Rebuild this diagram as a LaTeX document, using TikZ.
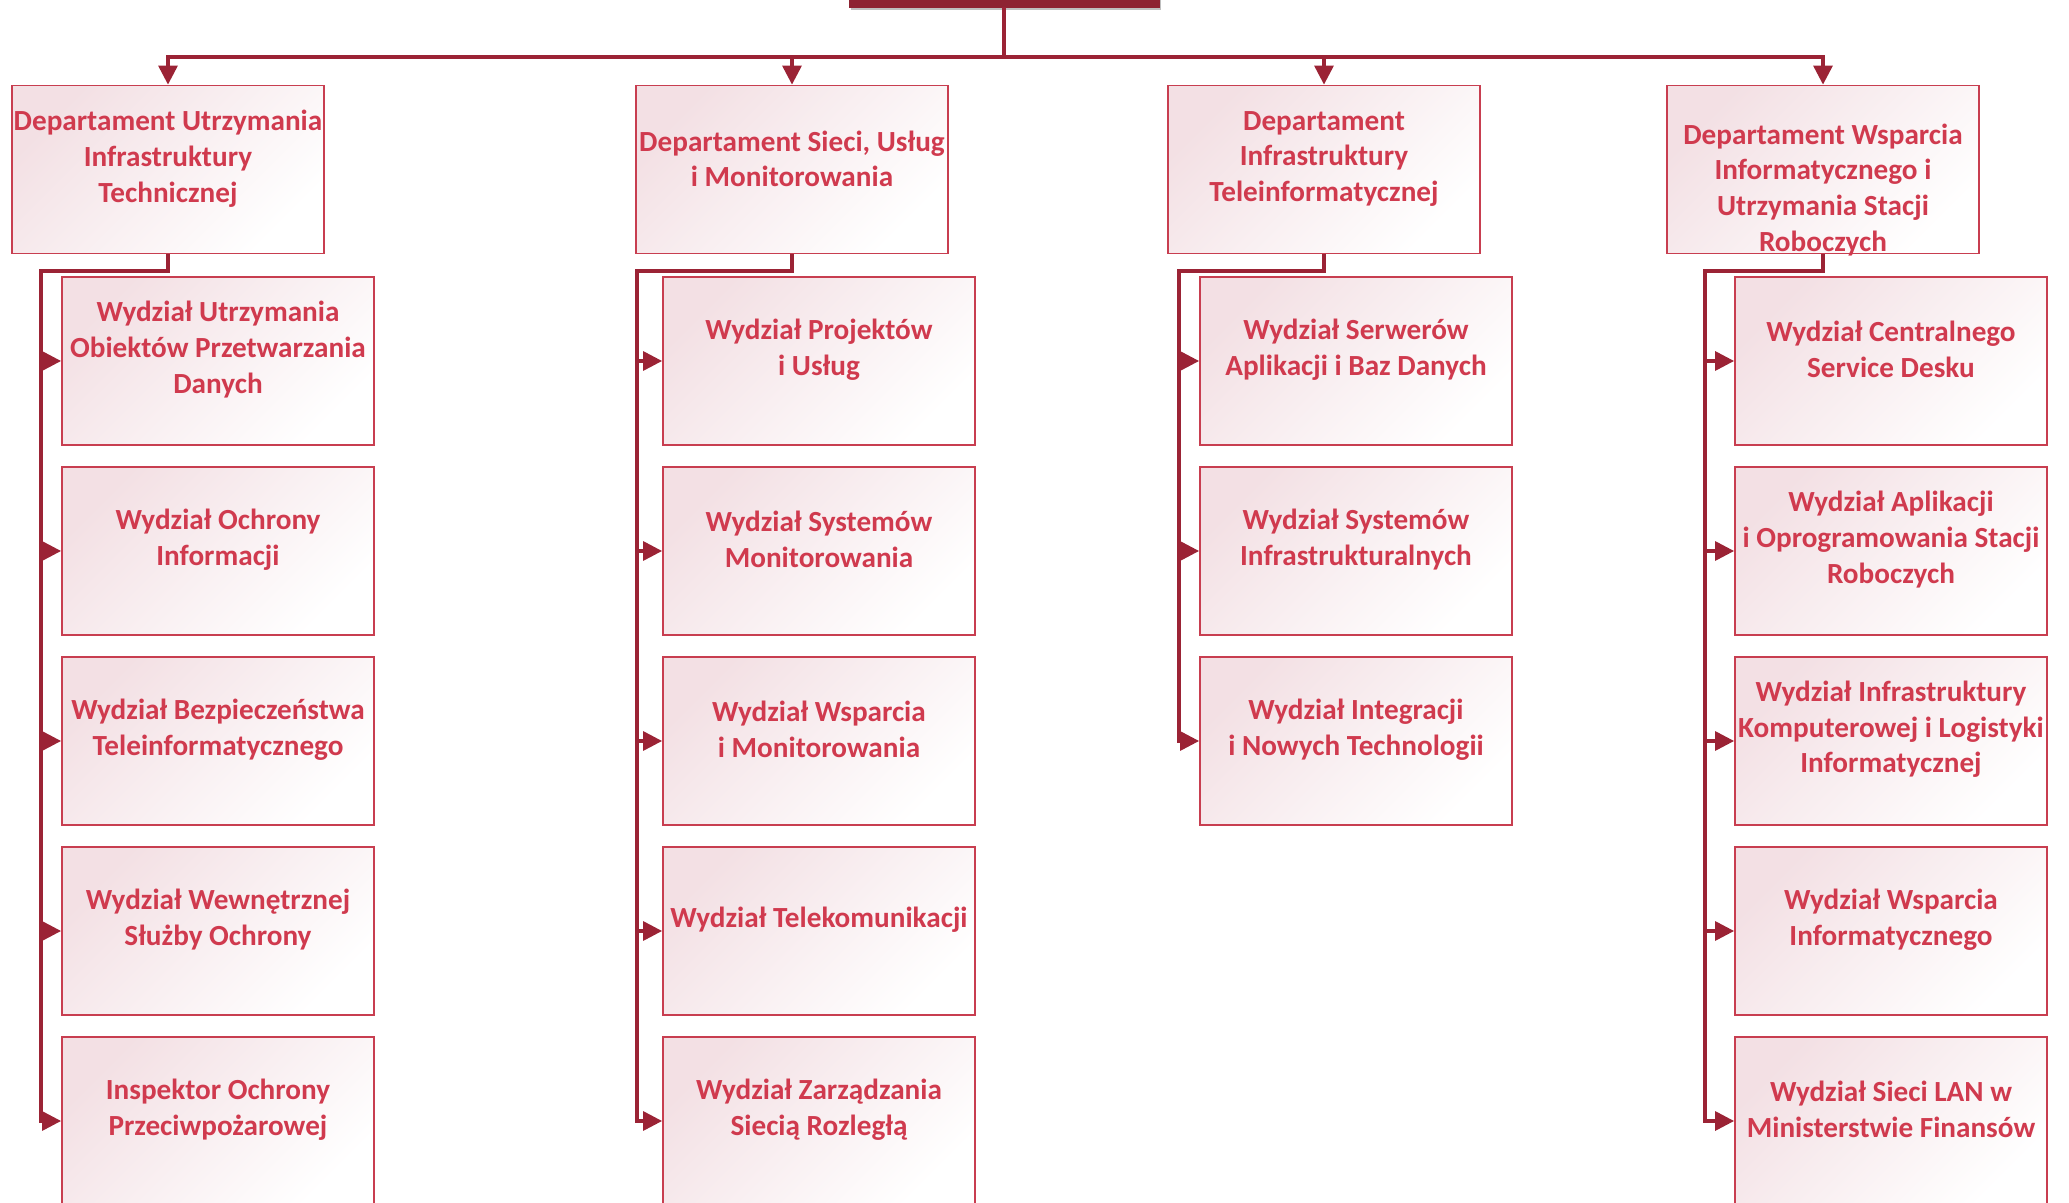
\documentclass[tikz,border=0pt]{standalone}
\usepackage{fontspec}
\setmainfont{Carlito}
\usetikzlibrary{arrows.meta,shadows}

\definecolor{mfred}{RGB}{155,35,53}
\definecolor{mftop}{RGB}{142,35,50}
\definecolor{mfline}{RGB}{200,62,80}
\definecolor{mftext}{RGB}{208,58,78}
\definecolor{mfpink}{RGB}{243,224,228}

\begin{document}
\begin{tikzpicture}[x=0.5pt,y=-0.5pt,>={Triangle[length=9.5pt,width=9.5pt]},node distance=95pt,
    unit/.style={rectangle,draw=mfline,line width=0.9pt,top color=mfpink,middle color=white!94!mfpink,bottom color=white,shading angle=45,minimum width=156pt,minimum height=84pt,inner sep=0pt},
    unittext/.style={text=mftext,font=\bfseries\fontsize{14.6}{17.9}\selectfont,align=center,inner sep=0pt},
    topbox/.style={rectangle,fill=mftop,draw=mftop,minimum width=155pt,minimum height=84pt,drop shadow={fill=black,opacity=0.25,shadow xshift=1pt,shadow yshift=-1.5pt}},
    link/.style={draw=mfred,line width=1.6pt}]
    \useasboundingbox (0,0) rectangle (2069,1203);
    \clip (0,0) rectangle (2069,1203);

    \node[topbox] (top) at (1004,-77) {};
    \coordinate (bus) at (1004,57);

    % departamenty
    \node[unit] (d1) at (168,169.5) {};
    \node[unit] (d2) at (792,169.5) {};
    \node[unit] (d3) at (1324,169.5) {};
    \node[unit] (d4) at (1823,169.5) {};
    \node[unittext] (d1t) at ([yshift=5.3pt]d1) {Departament Utrzymania\\Infrastruktury\\Technicznej};
    \node[unittext] (d2t) at ([yshift=5.3pt]d2) {Departament Sieci, Usług\\i Monitorowania};
    \node[unittext] (d3t) at ([yshift=5.3pt]d3) {Departament\\Infrastruktury\\Teleinformatycznej};
    \node[unittext] (d4t) at ([yshift=-10.2pt]d4) {Departament Wsparcia\\Informatycznego i\\Utrzymania Stacji\\Roboczych};

    % wydzialy
    \node[unit] (w11) at (218,361) {};
    \node[unit] (w12) [below of=w11] {};
    \node[unit] (w13) [below of=w12] {};
    \node[unit] (w14) [below of=w13] {};
    \node[unit] (w15) [below of=w14] {};
    \node[unit] (w21) at (819,361) {};
    \node[unit] (w22) [below of=w21] {};
    \node[unit] (w23) [below of=w22] {};
    \node[unit] (w24) [below of=w23] {};
    \node[unit] (w25) [below of=w24] {};
    \node[unit] (w31) at (1356,361) {};
    \node[unit] (w32) [below of=w31] {};
    \node[unit] (w33) [below of=w32] {};
    \node[unit] (w41) at (1891,361) {};
    \node[unit] (w42) [below of=w41] {};
    \node[unit] (w43) [below of=w42] {};
    \node[unit] (w44) [below of=w43] {};
    \node[unit] (w45) [below of=w44] {};

    \node[unittext] (w11t) at ([yshift=5.8pt]w11) {Wydział Utrzymania\\Obiektów Przetwarzania\\Danych};
    \node[unittext] (w12t) at ([yshift=5.8pt]w12) {Wydział Ochrony\\Informacji};
    \node[unittext] (w13t) at ([yshift=5.8pt]w13) {Wydział Bezpieczeństwa\\Teleinformatycznego};
    \node[unittext] (w14t) at ([yshift=5.8pt]w14) {Wydział Wewnętrznej\\Służby Ochrony};
    \node[unittext] (w15t) at ([yshift=5.8pt]w15) {Inspektor Ochrony\\Przeciwpożarowej};
    \node[unittext] (w21t) at ([yshift=5.8pt]w21) {Wydział Projektów\\i Usług};
    \node[unittext] (w22t) at ([yshift=5.8pt]w22) {Wydział Systemów\\Monitorowania};
    \node[unittext] (w23t) at ([yshift=5.8pt]w23) {Wydział Wsparcia\\i Monitorowania};
    \node[unittext] (w24t) at ([yshift=5.8pt]w24) {Wydział Telekomunikacji};
    \node[unittext] (w25t) at ([yshift=5.8pt]w25) {Wydział Zarządzania\\Siecią Rozległą};
    \node[unittext] (w31t) at ([yshift=5.8pt]w31) {Wydział Serwerów\\Aplikacji i Baz Danych};
    \node[unittext] (w32t) at ([yshift=5.8pt]w32) {Wydział Systemów\\Infrastrukturalnych};
    \node[unittext] (w33t) at ([yshift=5.8pt]w33) {Wydział Integracji\\i Nowych Technologii};
    \node[unittext] (w41t) at ([yshift=5.8pt]w41) {Wydział Centralnego\\Service Desku};
    \node[unittext] (w42t) at ([yshift=5.8pt]w42) {Wydział Aplikacji\\i Oprogramowania Stacji\\Roboczych};
    \node[unittext] (w43t) at ([yshift=5.8pt]w43) {Wydział Infrastruktury\\Komputerowej i Logistyki\\Informatycznej};
    \node[unittext] (w44t) at ([yshift=5.8pt]w44) {Wydział Wsparcia\\Informatycznego};
    \node[unittext] (w45t) at ([yshift=5.8pt]w45) {Wydział Sieci LAN w\\Ministerstwie Finansów};

    % polaczenia
    \draw[link,->] (top.south) -- (bus) -| (d1.north);
    \draw[link,->] (bus) -| (d2.north);
    \draw[link,->] (bus) -| (d3.north);
    \draw[link,->] (bus) -| (d4.north);

    \coordinate (v1) at (41,271);
    \coordinate (v2) at (637,271);
    \coordinate (v3) at (1179,271);
    \coordinate (v4) at (1705,271);

    \draw[link,->] (d1.south) |- (v1) |- (w15.west);
    \draw[link,->] (v1 |- w11.west) -- (w11.west);
    \draw[link,->] (v1 |- w12.west) -- (w12.west);
    \draw[link,->] (v1 |- w13.west) -- (w13.west);
    \draw[link,->] (v1 |- w14.west) -- (w14.west);

    \draw[link,->] (d2.south) |- (v2) |- (w25.west);
    \draw[link,->] (v2 |- w21.west) -- (w21.west);
    \draw[link,->] (v2 |- w22.west) -- (w22.west);
    \draw[link,->] (v2 |- w23.west) -- (w23.west);
    \draw[link,->] (v2 |- w24.west) -- (w24.west);

    \draw[link,->] (d3.south) |- (v3) |- (w33.west);
    \draw[link,->] (v3 |- w31.west) -- (w31.west);
    \draw[link,->] (v3 |- w32.west) -- (w32.west);

    \draw[link,->] (d4.south) |- (v4) |- (w45.west);
    \draw[link,->] (v4 |- w41.west) -- (w41.west);
    \draw[link,->] (v4 |- w42.west) -- (w42.west);
    \draw[link,->] (v4 |- w43.west) -- (w43.west);
    \draw[link,->] (v4 |- w44.west) -- (w44.west);
\end{tikzpicture}
\end{document}
